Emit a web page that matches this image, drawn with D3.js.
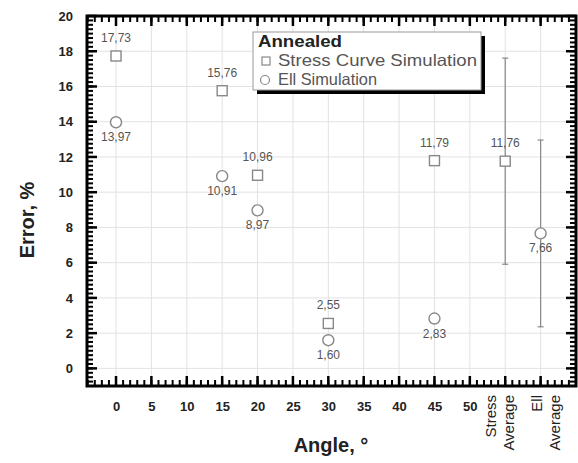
<!DOCTYPE html>
<html>
<head>
<meta charset="utf-8">
<script src="https://cdn.jsdelivr.net/npm/d3@7"></script>
<style>
  body { margin: 0; background: #fff; }
  text { font-family: "Liberation Sans", Arial, sans-serif; }
</style>
</head>
<body>
<svg id="chart" width="578" height="463"></svg>
<script>
// values
var angles = [0, 15, 20, 30, 45];
var stressErr = [17.73, 15.76, 10.96, 2.55, 11.79];
var ellErr = [13.97, 10.91, 8.97, 1.60, 2.83];
var avgPos = [55, 60];
var avgValues = [11.76, 7.66];
var avgSpread = [5.85, 5.3];
var avgNames = [["Stress", "Average"], ["Ell", "Average"]];
var xTicks = [0, 5, 10, 15, 20, 25, 30, 35, 40, 45, 50];
var yTicks = [0, 2, 4, 6, 8, 10, 12, 14, 16, 18, 20];
var legendTitle = "Annealed";
var legendNames = ["Stress Curve Simulation", "Ell Simulation"];

var svg = d3.select("#chart");
var m = {left: 87, right: 2, top: 16, bottom: 77};
var W = 578 - m.left - m.right, H = 463 - m.top - m.bottom;
var g = svg.append("g").attr("transform", "translate(" + m.left + "," + m.top + ")");

var x = d3.scaleLinear().domain([-4.1, 65]).range([0, W]);
var y = d3.scaleLinear().domain([-1, 20]).range([H, 0]);
var fmt = function(v) { return d3.format(".2f")(v).replace(".", ","); };
var allX = xTicks.concat(avgPos);

// grid
g.append("g").selectAll("line").data(allX).enter().append("line")
  .attr("x1", d => x(d)).attr("x2", d => x(d)).attr("y1", 0).attr("y2", H)
  .attr("stroke", "#e2e2e2");
g.append("g").selectAll("line").data(yTicks).enter().append("line")
  .attr("x1", 0).attr("x2", W).attr("y1", d => y(d)).attr("y2", d => y(d))
  .attr("stroke", "#e2e2e2");

// tick labels
function labelStyle(s) {
  s.select(".domain").remove();
  s.selectAll(".tick line").remove();
  s.selectAll("text").attr("font-size", 13).attr("font-weight", "bold").attr("fill", "#222")
    .style("font-family", "'Liberation Sans', Arial, sans-serif");
}
g.append("g").attr("transform", "translate(0," + H + ")")
  .call(d3.axisBottom(x).tickValues(xTicks).tickSize(0).tickPadding(16)).call(labelStyle);
g.append("g")
  .call(d3.axisLeft(y).tickValues(yTicks).tickSize(0).tickPadding(14)).call(labelStyle);

// rotated category labels for the averages
var nameShift = [-9, 1];
avgPos.forEach(function(p, i) {
  var t = g.append("text")
    .attr("transform", "translate(" + (x(p) + nameShift[i]) + "," + (H + 9) + ") rotate(-90)")
    .attr("text-anchor", "end").attr("font-size", 15).attr("fill", "#222");
  avgNames[i].forEach(function(s, j) {
    t.append("tspan").attr("x", 0).attr("y", j * 18).text(s);
  });
});

// inward tick marks on all four sides, as thin filled bars
var tk = g.append("g").attr("fill", "#000");
function xMarks(vals, len, sw) {
  tk.append("g").selectAll("rect").data(vals).enter().append("rect")
    .attr("x", d => x(d) - sw / 2).attr("y", H - len).attr("width", sw).attr("height", len);
  tk.append("g").selectAll("rect").data(vals).enter().append("rect")
    .attr("x", d => x(d) - sw / 2).attr("y", 0).attr("width", sw).attr("height", len);
}
function yMarks(vals, len, sw) {
  tk.append("g").selectAll("rect").data(vals).enter().append("rect")
    .attr("y", d => y(d) - sw / 2).attr("x", 0).attr("height", sw).attr("width", len);
  tk.append("g").selectAll("rect").data(vals).enter().append("rect")
    .attr("y", d => y(d) - sw / 2).attr("x", W - len).attr("height", sw).attr("width", len);
}
xMarks(d3.range(-4, 65.01, 1), 6, 2);
xMarks(allX, 10, 2.5);
yMarks(d3.range(-1, 20.01, 0.25), 6, 2);
yMarks(yTicks, 10, 2.5);

// frame
g.append("rect").attr("width", W).attr("height", H)
  .attr("fill", "none").attr("stroke", "#000").attr("stroke-width", 3);

// error bars
var eb = g.append("g").attr("stroke", "#888").attr("stroke-width", 1.2);
avgPos.forEach(function(p, i) {
  var top = y(avgValues[i] + avgSpread[i]), bot = y(avgValues[i] - avgSpread[i]);
  eb.append("line").attr("x1", x(p)).attr("x2", x(p)).attr("y1", top).attr("y2", bot);
  eb.append("line").attr("x1", x(p) - 3).attr("x2", x(p) + 3).attr("y1", top).attr("y2", top);
  eb.append("line").attr("x1", x(p) - 3).attr("x2", x(p) + 3).attr("y1", bot).attr("y2", bot);
});

// markers
var sq = angles.map((a, i) => ({x: a, v: stressErr[i]})).concat([{x: avgPos[0], v: avgValues[0]}]);
var ci = angles.map((a, i) => ({x: a, v: ellErr[i]})).concat([{x: avgPos[1], v: avgValues[1]}]);

g.append("g").selectAll("rect").data(sq).enter().append("rect")
  .attr("x", d => x(d.x) - 5).attr("y", d => y(d.v) - 5)
  .attr("width", 10).attr("height", 10)
  .attr("fill", "#fff").attr("stroke", "#888").attr("stroke-width", 1.4);
g.append("g").selectAll("circle").data(ci).enter().append("circle")
  .attr("cx", d => x(d.x)).attr("cy", d => y(d.v)).attr("r", 5.5)
  .attr("fill", "#fff").attr("stroke", "#888").attr("stroke-width", 1.4);

// value labels: squares above, circles below
g.append("g").selectAll("text").data(sq).enter().append("text")
  .attr("x", d => x(d.x)).attr("y", d => y(d.v) - 14)
  .attr("text-anchor", "middle").attr("font-size", 12).attr("fill", "#555")
  .text(d => fmt(d.v));
g.append("g").selectAll("text").data(ci).enter().append("text")
  .attr("x", d => x(d.x)).attr("y", d => y(d.v) + 19)
  .attr("text-anchor", "middle").attr("font-size", 12).attr("fill", "#555")
  .text(d => fmt(d.v));

// legend
var lg = svg.append("g").attr("transform", "translate(253,32)");
lg.append("rect").attr("x", 4).attr("y", 4).attr("width", 228).attr("height", 58).attr("fill", "#000");
lg.append("rect").attr("width", 228).attr("height", 58).attr("fill", "#fff").attr("stroke", "#999");
lg.append("text").attr("x", 5).attr("y", 15).attr("font-size", 17).attr("font-weight", "bold")
  .attr("fill", "#222").attr("textLength", 84).attr("lengthAdjust", "spacingAndGlyphs").text(legendTitle);
var rowW = [199, 99];
legendNames.forEach(function(n, i) {
  var base = 34 + i * 19, cy = base - 5;
  if (i === 0) {
    lg.append("rect").attr("x", 9).attr("y", cy - 4).attr("width", 8).attr("height", 8)
      .attr("fill", "none").attr("stroke", "#888").attr("stroke-width", 1.2);
  } else {
    lg.append("circle").attr("cx", 12).attr("cy", cy).attr("r", 4.5)
      .attr("fill", "none").attr("stroke", "#888").attr("stroke-width", 1.2);
  }
  lg.append("text").attr("x", 25).attr("y", base).attr("font-size", 16.5).attr("fill", "#555")
    .attr("textLength", rowW[i]).attr("lengthAdjust", "spacingAndGlyphs").text(n);
});

// axis titles
svg.append("text").attr("transform", "translate(34,220) rotate(-90)")
  .attr("text-anchor", "middle").attr("font-size", 20).attr("font-weight", "bold")
  .attr("fill", "#222").text("Error, %");
svg.append("text").attr("x", 331).attr("y", 452)
  .attr("text-anchor", "middle").attr("font-size", 20).attr("font-weight", "bold")
  .attr("fill", "#222").text("Angle, °");
</script>
</body>
</html>
